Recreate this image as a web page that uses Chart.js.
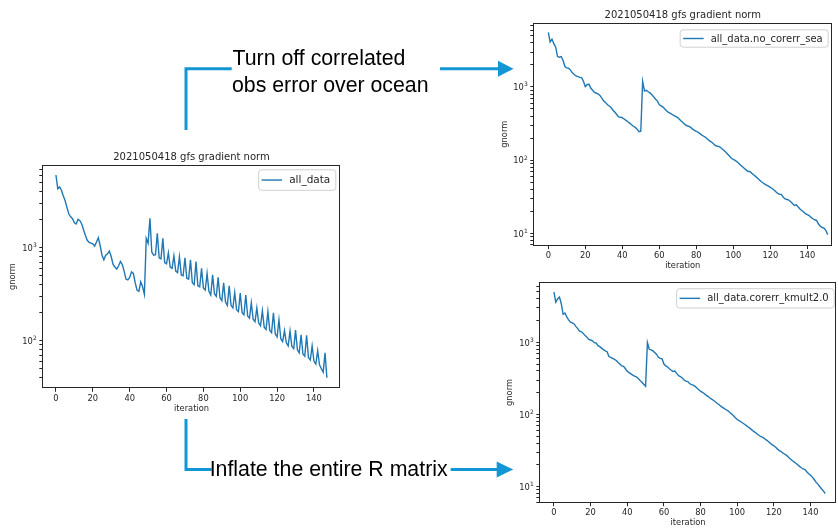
<!DOCTYPE html>
<html>
<head>
<meta charset="utf-8">
<script src="https://cdn.jsdelivr.net/npm/chart.js@4.4.0/dist/chart.umd.min.js"></script>
<style>
html, body { margin: 0; padding: 0; background: #fff; overflow: hidden; width: 838px; height: 528px; }
canvas { position: absolute; }
.note { position: absolute; font-family: "Liberation Sans", Arial, sans-serif; font-size: 21.3px; line-height: 1; color: #000; white-space: nowrap; }
svg { position: absolute; left: 0; top: 0; }
</style>
</head>
<body>
<canvas id="c1" width="350" height="275" style="left:0;top:145px"></canvas>
<canvas id="c2" width="348" height="275" style="left:490px;top:0"></canvas>
<canvas id="c3" width="348" height="256" style="left:490px;top:272px"></canvas>

<svg width="838" height="528">
  <g stroke="#1296d4" stroke-width="3" fill="none">
    <polyline points="186,130 186,68.8 231.7,68.8" />
    <line x1="440" y1="68.8" x2="499" y2="68.8" />
    <polyline points="186,419 186,469.5 211.7,469.5" />
    <line x1="450.7" y1="469.5" x2="497" y2="469.5" />
  </g>
  <g fill="#1296d4">
    <polygon points="498,60.8 513.5,68.8 498,76.8" />
    <polygon points="496.7,461.5 513.3,469.5 496.7,477.5" />
  </g>
</svg>
<div class="note" style="left:232.5px;top:48px">Turn off correlated</div>
<div class="note" style="left:232px;top:74.5px">obs error over ocean</div>
<div class="note" style="left:209.7px;top:459.3px">Inflate the entire R matrix</div>

<script>
// gnorm per iteration
const allData = [
  6050, 4300, 4500, 4150, 3600, 3200, 2700, 2300, 2150, 2050,
  1850, 1800, 2020, 1950, 1800, 1550, 1350, 1200, 1140, 1120,
  1100, 1040, 1150, 1280, 1050, 830, 740, 830, 860, 920,
  800, 660, 620, 590, 640, 710, 660, 560, 460, 450,
  480, 550, 530, 420, 350, 340, 430, 380, 315, 1260,
  1115, 2070, 900, 830, 840, 1430, 780, 760, 1260, 690,
  670, 880, 620, 600, 820, 560, 540, 800, 510, 500,
  780, 470, 460, 740, 420, 400, 710, 390, 380, 600,
  370, 350, 530, 340, 310, 510, 320, 300, 480, 290,
  270, 420, 260, 240, 390, 240, 225, 330, 215, 205,
  325, 200, 190, 310, 185, 175, 255, 170, 160, 225,
  155, 145, 210, 140, 132, 205, 130, 122, 200, 118,
  110, 168, 105, 98, 128, 95, 88, 127, 87, 82,
  130, 80, 74, 116, 72, 68, 114, 66, 62, 88,
  60, 56, 78, 55, 50, 46, 74, 40
];

const noCorerrSea = [
  5560, 4120, 4500, 3900, 3500, 2600, 2550, 2600, 2300, 1900,
  1820, 1800, 1700, 1560, 1480, 1420, 1380, 1350, 1340, 1200,
  1010, 1080, 1090, 960, 900, 840, 820, 800, 760, 700,
  640, 610, 570, 550, 520, 480, 450, 420, 390, 385,
  380, 365, 350, 335, 320, 305, 290, 280, 265, 245,
  248, 1190, 880, 900, 860, 830, 780, 730, 680, 640,
  570, 550, 530, 500, 470, 450, 435, 420, 405, 392,
  380, 360, 340, 322, 306, 295, 290, 280, 265, 255,
  248, 240, 230, 220, 212, 205, 195, 185, 178, 170,
  160, 156, 154, 150, 142, 135, 128, 120, 113, 106,
  102, 99, 95, 90, 85, 81, 77, 73, 70, 70,
  66, 63, 60, 57, 54, 51, 49, 47, 45.5, 44,
  42.5, 41, 39, 37, 35, 34, 34, 31, 29.5, 29,
  28.5, 27, 25.5, 24, 24.5, 23, 21.5, 20.5, 19.5, 18.5,
  18, 17.5, 16.5, 15.8, 15.3, 15, 13.5, 12.5, 12, 11.8,
  11, 9.6
];

const corerrKmult2 = [
  4970, 3610, 4000, 4240, 3430, 2450, 2550, 2250, 2050, 1900,
  1860, 1800, 1650, 1550, 1430, 1400, 1330, 1240, 1180, 1100,
  1077, 1050, 990, 980, 900, 872, 830, 790, 760, 740,
  635, 620, 600, 580, 560, 526, 500, 470, 465, 430,
  396, 380, 365, 350, 340, 331, 315, 295, 280, 262,
  246, 990, 800, 785, 760, 720, 680, 620, 600, 590,
  500, 470, 455, 430, 410, 395, 400, 370, 345, 335,
  320, 300, 290, 285, 268, 259, 255, 245, 232, 220,
  210, 202, 195, 185, 178, 170, 163, 157, 150, 143,
  137, 130, 125, 120, 116, 112, 106, 101, 96, 90,
  85, 82, 79, 76, 73, 70, 67, 64, 61, 58,
  56, 53, 51, 49, 48, 46, 44, 42, 40, 38,
  36.7, 35, 33, 31.5, 30.5, 29, 28, 27, 25.5, 24,
  22.9, 22, 21, 20, 19, 18.2, 17.5, 17.2, 16, 15,
  14.3, 13.5, 12.5, 11.5, 10.8, 10, 9.3, 8.7, 8.0
];

const xTicks = [0, 20, 40, 60, 80, 100, 120, 140];
const yDecades = [1, 2, 3];
const chartTitle = "2021050418 gfs gradient norm";

const INK = "#262626";

// matplotlib-ish frame, title, 10^n labels and in-axes legend
const mplPlugin = {
  id: "mpl",
  afterDraw(chart, args, o) {
    const { ctx, chartArea: a } = chart;
    ctx.save();
    ctx.strokeStyle = INK;
    ctx.lineWidth = 1;
    ctx.strokeRect(Math.round(a.left) + 0.5, Math.round(a.top) + 0.5,
      Math.round(a.right - a.left) - 1, Math.round(a.bottom - a.top) - 1);

    if (o.title) {
      ctx.fillStyle = INK;
      ctx.font = '10px "DejaVu Sans"';
      ctx.textAlign = "center";
      ctx.textBaseline = "alphabetic";
      ctx.fillText(o.title, (a.left + a.right) / 2, a.top - 5);
    }

    // decade labels like mathtext 10^3
    const ys = chart.scales.y;
    ctx.fillStyle = INK;
    ctx.textBaseline = "alphabetic";
    ctx.textAlign = "left";
    yDecades.forEach((e) => {
      const v = Math.pow(10, e);
      if (v < ys.min || v > ys.max) return;
      const py = ys.getPixelForValue(v);
      const right = a.left - 5.5;
      ctx.font = '6px "DejaVu Sans"';
      const sw = ctx.measureText(String(e)).width;
      ctx.fillText(String(e), right - sw, py - 0.5);
      ctx.font = '8.3px "DejaVu Sans"';
      const bw = ctx.measureText("10").width;
      ctx.fillText("10", right - sw - bw - 0.3, py + 3.3);
    });

    const ds = chart.data.datasets[0];
    ctx.font = o.legendFont + 'px "DejaVu Sans"';
    const tw = ctx.measureText(ds.label).width;
    const w = 31 + tw + 5, h = o.legendH;
    const x = a.right - o.legendRight - w, y = a.top + o.legendTop;
    ctx.beginPath();
    ctx.roundRect(x + 0.5, y + 0.5, w, h, 3);
    ctx.fillStyle = "rgba(255,255,255,0.8)";
    ctx.fill();
    ctx.strokeStyle = "#d0d0d0";
    ctx.stroke();
    ctx.beginPath();
    ctx.moveTo(x + 3.5, y + h / 2 + 0.5);
    ctx.lineTo(x + 24, y + h / 2 + 0.5);
    ctx.strokeStyle = ds.borderColor;
    ctx.lineWidth = 1.4;
    ctx.stroke();
    ctx.fillStyle = INK;
    ctx.textAlign = "left";
    ctx.textBaseline = "middle";
    ctx.fillText(ds.label, x + 31, y + h / 2 + 1);
    ctx.restore();
  }
};

function logTicks(scale) {
  const out = [];
  for (let e = 0; e <= 4; e++) {
    for (let m = 1; m <= 9; m++) {
      const v = m * Math.pow(10, e);
      if (v >= scale.min && v <= scale.max) out.push({ value: v, major: m === 1 });
    }
  }
  scale.ticks = out;
}

function makeChart(id, label, values, o) {
  const pts = values.map((v, i) => ({ x: i, y: v }));
  const tickFont = { family: "DejaVu Sans", size: 8.3 };
  return new Chart(document.getElementById(id), {
    type: "line",
    data: {
      datasets: [{
        label: label,
        data: pts,
        borderColor: "#1f77b4",
        borderWidth: 1.4,
        pointRadius: 0,
        tension: 0,
        fill: false
      }]
    },
    options: {
      responsive: false,
      animation: false,
      events: [],
      layout: { padding: { left: 0, top: o.padTop, right: o.padRight, bottom: 0 } },
      plugins: {
        legend: { display: false },
        tooltip: { enabled: false },
        mpl: {
          title: o.title,
          legendFont: o.legendFont,
          legendH: o.legendH,
          legendRight: o.legendRight,
          legendTop: o.legendTop
        }
      },
      scales: {
        x: {
          type: "linear",
          min: o.xmin,
          max: o.xmax,
          afterBuildTicks: (s) => { s.ticks = xTicks.map((v) => ({ value: v })); },
          afterFit: (s) => { s.height = o.xh; },
          border: { display: false },
          grid: { drawOnChartArea: false, tickLength: 3.5, color: INK },
          ticks: { color: INK, font: tickFont, padding: 2, maxRotation: 0, autoSkip: false },
          title: { display: true, text: "iteration", color: INK, font: tickFont, padding: { top: 0, bottom: o.xTitlePad } }
        },
        y: {
          type: "logarithmic",
          min: o.ymin,
          max: o.ymax,
          afterBuildTicks: logTicks,
          afterFit: (s) => { s.width = o.yw; },
          border: { display: false },
          grid: { drawOnChartArea: false, tickLength: 3, color: INK },
          ticks: { display: true, autoSkip: false, callback: () => "" },
          title: { display: true, text: "gnorm", color: INK, font: tickFont, padding: { top: o.yTitlePad, bottom: 0 } }
        }
      }
    },
    plugins: [mplPlugin]
  });
}

makeChart("c1", "all_data", allData, {
  title: chartTitle,
  padTop: 20, padRight: 9.3, yw: 42.3, xh: 31.7,
  xmin: -7.4, xmax: 154.5, ymin: 30.8, ymax: 7745,
  xTitlePad: 6.3, yTitlePad: 7.9,
  legendFont: 10.5, legendH: 20.5, legendRight: 5.4, legendTop: 4.3
});

makeChart("c2", "all_data.no_corerr_sea", noCorerrSea, {
  title: chartTitle,
  padTop: 22.7, padRight: 5.7, yw: 43.3, xh: 29.3,
  xmin: -8.1, xmax: 153.5, ymin: 6.77, ymax: 7550,
  xTitlePad: 4, yTitlePad: 9.6,
  legendFont: 10, legendH: 17.4, legendRight: 4.6, legendTop: 6.6
});

makeChart("c3", "all_data.corerr_kmult2.0", corerrKmult2, {
  title: "",
  padTop: 8, padRight: 1.3, yw: 49.3, xh: 25.3,
  xmin: -8.0, xmax: 154.3, ymin: 5.96, ymax: 6820,
  xTitlePad: 0, yTitlePad: 15.3,
  legendFont: 10, legendH: 19.3, legendRight: 3, legendTop: 6
});
</script>
</body>
</html>
